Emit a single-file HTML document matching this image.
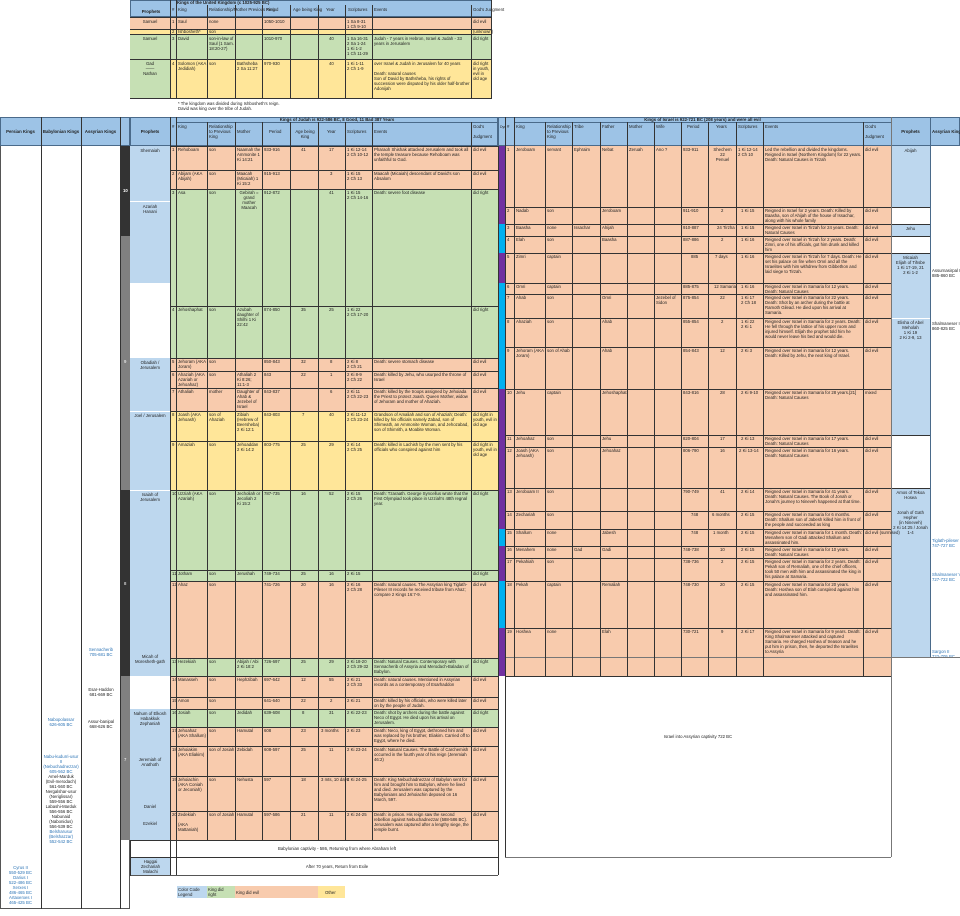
<!DOCTYPE html>
<html><head><meta charset="utf-8"><style>
body{margin:0;width:960px;height:916px;background:#fff;position:relative;overflow:hidden;font-family:"Liberation Sans",sans-serif}
div{position:absolute;box-sizing:border-box}
.t{font-size:4.3px;line-height:5px;color:#222;overflow:hidden;padding:1px}
.h{background:#9dc3e6;border:1px solid #4a6a8a}
.r{background:#f8cbad}.g{background:#c6e0b4}.y{background:#ffe699}.b{background:#bdd7ee}
.hl{height:1px;background:#333}
.vl{width:1px;background:#333}
.bl{color:#2e75b6}
</style></head><body>

<!-- TOP TABLE -->
<div class="h" style="left:130px;top:0;width:362px;height:17px"></div>
<div class="t" style="left:176px;top:-1px;font-weight:bold">Kings of the United Kingdom (c 1025-925 BC)</div>
<div class="t" style="left:132px;top:8px;width:38px;text-align:center;font-weight:bold">Prophets</div>
<div class="t" style="left:171px;top:6px">#</div>
<div class="t" style="left:177px;top:6px">King</div>
<div class="t" style="left:208px;top:6px">Relationship/Mother Previous King</div>
<div class="t" style="left:265px;top:6px">Period</div>
<div class="t" style="left:292px;top:6px">Age being King</div>
<div class="t" style="left:325px;top:6px">Year</div>
<div class="t" style="left:347px;top:6px">Scriptures</div>
<div class="t" style="left:373px;top:6px">Events</div>
<div class="t" style="left:472px;top:6px">God's Judgment</div>
<div class="r" style="left:130px;top:17px;width:362px;height:12px"></div>
<div class="y" style="left:130px;top:29px;width:362px;height:5px"></div>
<div class="g" style="left:130px;top:34px;width:362px;height:25px"></div>
<div class="y" style="left:170px;top:59px;width:322px;height:40px"></div>
<div class="g" style="left:130px;top:59px;width:40px;height:40px"></div>
<div class="hl" style="left:130px;top:17px;width:362px"></div>
<div class="hl" style="left:130px;top:29px;width:362px"></div>
<div class="hl" style="left:130px;top:34px;width:362px"></div>
<div class="hl" style="left:130px;top:59px;width:362px"></div>
<div class="hl" style="left:130px;top:98px;width:362px"></div>
<div class="vl" style="left:170px;top:0;height:99px"></div><div class="vl" style="left:176px;top:0;height:99px"></div>
<div class="vl" style="left:207px;top:5px;height:94px"></div><div class="vl" style="left:235px;top:5px;height:94px"></div>
<div class="vl" style="left:262px;top:5px;height:94px"></div><div class="vl" style="left:290px;top:5px;height:94px"></div>
<div class="vl" style="left:318px;top:5px;height:94px"></div><div class="vl" style="left:345px;top:5px;height:94px"></div>
<div class="vl" style="left:372px;top:5px;height:94px"></div><div class="vl" style="left:471px;top:5px;height:94px"></div>
<div class="vl" style="left:491px;top:0;height:99px"></div>
<div class="t" style="left:130px;top:18px;width:40px;text-align:center">Samuel</div>
<div class="t" style="left:130px;top:35px;width:40px;text-align:center">Samuel</div>
<div class="t" style="left:130px;top:60px;width:40px;text-align:center">Gad<br>——<br>Nathan</div>
<div class="t" style="left:171px;top:18px">1</div><div class="t" style="left:177px;top:18px">Saul</div><div class="t" style="left:208px;top:18px">none</div><div class="t" style="left:263px;top:18px">1050-1010</div><div class="t" style="left:346px;top:18px">1 Sa 8-31<br>1 Ch 9-10</div><div class="t" style="left:472px;top:18px">did evil</div>
<div class="t" style="left:171px;top:28px">2</div><div class="t" style="left:177px;top:28px">Ishbosheth*</div><div class="t" style="left:208px;top:28px">son</div><div class="t" style="left:472px;top:28px">(unknown)</div>
<div class="t" style="left:171px;top:35px">3</div><div class="t" style="left:177px;top:35px">David</div><div class="t" style="left:208px;top:35px;width:27px">son-in-law of Saul (1 Sam. 18:20-27)</div><div class="t" style="left:263px;top:35px">1010-970</div><div class="t" style="left:328px;top:35px">40</div><div class="t" style="left:346px;top:35px">1 Sa 16-31<br>2 Sa 1-24<br>1 Ki 1-2<br>1 Ch 11-29</div><div class="t" style="left:373px;top:35px;width:98px">Judah - 7 years in Hebron, Israel &amp; Judah - 33 years in Jerusalem</div><div class="t" style="left:472px;top:35px">did right</div>
<div class="t" style="left:171px;top:60px">4</div><div class="t" style="left:177px;top:60px;width:30px">Solomon (AKA Jedidiah)</div><div class="t" style="left:208px;top:60px">son</div><div class="t" style="left:236px;top:60px;width:26px">Bathsheba 2 Sa 11:27</div><div class="t" style="left:263px;top:60px">970-930</div><div class="t" style="left:328px;top:60px">40</div><div class="t" style="left:346px;top:60px">1 Ki 1-11<br>2 Ch 1-9</div><div class="t" style="left:373px;top:60px;width:98px">over Israel &amp; Judah in Jerusalem for 40 years<br><br>Death: natural causes<br>Son of David by Bathsheba, his rights of succession were disputed by his older half-brother Adonijah</div><div class="t" style="left:472px;top:60px;width:19px">did right in youth, evil in old age</div>
<div class="t" style="left:177px;top:100px">* The kingdom was divided during Ishbosheth's reign.<br>David was king over the tribe of Judah.</div>

<!-- LEFT COLUMNS -->
<div style="left:0;top:117px;width:130px;height:792px;border:1px solid #555"></div>
<div class="h" style="left:0;top:117px;width:130px;height:29px"></div>
<div class="vl" style="left:41px;top:117px;height:792px"></div>
<div class="vl" style="left:81px;top:117px;height:792px"></div>
<div class="vl" style="left:120px;top:117px;height:792px"></div>
<div class="t" style="left:0;top:128px;width:41px;text-align:center;font-weight:bold">Persian Kings</div>
<div class="t" style="left:41px;top:128px;width:40px;text-align:center;font-weight:bold">Babylonian Kings</div>
<div class="t" style="left:81px;top:128px;width:39px;text-align:center;font-weight:bold">Assyrian Kings</div>
<div style="left:121px;top:146px;width:9px;height:90px;background:#333"></div>
<div style="left:121px;top:236px;width:9px;height:254px;background:#808080"></div>
<div style="left:121px;top:490px;width:9px;height:186px;background:#333"></div>
<div style="left:121px;top:676px;width:9px;height:164px;background:#808080"></div>
<div class="t" style="left:122px;top:187px;color:#fff;font-weight:bold">10</div>
<div class="t" style="left:123px;top:358px;color:#fff">9</div>
<div class="t" style="left:123px;top:580px;color:#fff">8</div>
<div class="t" style="left:123px;top:756px;color:#fff">7</div>
<div class="t bl" style="left:82px;top:646px;width:38px;text-align:center">Sennacherib<br>705-681 BC</div>
<div class="t" style="left:82px;top:686px;width:38px;text-align:center">Esar-Haddon<br>681-669 BC</div>
<div class="t" style="left:82px;top:718px;width:38px;text-align:center">Assur-banipal<br>668-626 BC</div>
<div class="t bl" style="left:41px;top:716px;width:40px;text-align:center">Nabopolassar<br>626-605 BC</div>
<div class="t" style="left:41px;top:753px;width:40px;text-align:center"><span class="bl">Nabu-kudurri-usur II<br>(Nebuchadnezzar)<br>605-562 BC</span><br>Amel-Marduk<br>(Evil-merodach)<br>561-560 BC<br>Nergalshar-usur<br>(Neriglissar)<br>559-556 BC<br>Labashi-Marduk<br>556-556 BC<br>Nabunaid<br>(Nabonidus)<br>556-539 BC<br><span class="bl">Belsharusur<br>(Belshazzar)<br>552-542 BC</span></div>
<div class="t bl" style="left:0;top:864px;width:41px;text-align:center">Cyrus II<br>550-529 BC<br>Darius I<br>522-486 BC<br>Xerxes I<br>486-465 BC<br>Artaxerxes I<br>465-425 BC</div>

<!-- JUDAH HEADER -->
<div class="h" style="left:130px;top:117px;width:368px;height:29px"></div>
<div class="t" style="left:176px;top:116px;width:322px;text-align:center;font-weight:bold;text-decoration:underline">Kings of Judah is 922-586 BC, 8 Good, 11 Bad 387 Years</div>
<div class="hl" style="left:176px;top:122px;width:322px;background:#4a6a8a"></div>
<div class="t" style="left:130px;top:128px;width:40px;text-align:center;font-weight:bold">Prophets</div>
<div class="t" style="left:171px;top:123px">#</div>
<div class="t" style="left:177px;top:123px">King</div>
<div class="t" style="left:208px;top:123px;width:27px">Relationship to Previous King</div>
<div class="t" style="left:236px;top:128px">Mother</div>
<div class="t" style="left:268px;top:128px">Period</div>
<div class="t" style="left:292px;top:128px;width:26px;text-align:center">Age being King</div>
<div class="t" style="left:326px;top:128px">Year</div>
<div class="t" style="left:346px;top:128px">Scriptures</div>
<div class="t" style="left:373px;top:128px">Events</div>
<div class="t" style="left:472px;top:123px;width:26px">God's<br><br>Judgment</div>

<!-- JUDAH PROPHETS -->
<div class="b" style="left:130px;top:146px;width:40px;height:55px"></div>
<div class="b" style="left:130px;top:202px;width:40px;height:81px"></div>
<div class="b" style="left:130px;top:358px;width:40px;height:318px"></div>
<div class="b" style="left:130px;top:709px;width:40px;height:131px"></div>
<div class="hl" style="left:130px;top:411px;width:40px;background:#fff"></div>
<div class="hl" style="left:130px;top:490px;width:40px;background:#fff"></div>
<div class="t" style="left:130px;top:147px;width:40px;text-align:center">Shemaiah</div>
<div class="t" style="left:130px;top:203px;width:40px;text-align:center">Azariah<br>Hanani</div>
<div class="t" style="left:130px;top:359px;width:40px;text-align:center">Obadiah /<br>Jerusalem</div>
<div class="t" style="left:130px;top:412px;width:40px;text-align:center">Joel / Jerusalem</div>
<div class="t" style="left:130px;top:491px;width:40px;text-align:center">Isaiah of<br>Jerusalem</div>
<div class="t" style="left:130px;top:653px;width:40px;text-align:center">Micah of<br>Moresheth-gath</div>
<div class="t" style="left:130px;top:710px;width:40px;text-align:center">Nahum of Elkosh<br>Habakkuk<br>Zephaniah</div>
<div class="t" style="left:130px;top:756px;width:40px;text-align:center">Jeremiah of<br>Anathoth</div>
<div class="t" style="left:130px;top:803px;width:40px;text-align:center">Daniel</div>
<div class="t" style="left:130px;top:820px;width:40px;text-align:center">Ezekiel</div>

<!-- JUDAH ROWS -->
<div class="r" style="left:170px;top:146px;width:328px;height:43px"></div>
<div class="g" style="left:170px;top:189px;width:328px;height:169px"></div>
<div class="r" style="left:170px;top:358px;width:328px;height:53px"></div>
<div class="y" style="left:170px;top:411px;width:328px;height:79px"></div>
<div class="g" style="left:170px;top:490px;width:328px;height:91px"></div>
<div class="r" style="left:170px;top:581px;width:328px;height:77px"></div>
<div class="g" style="left:170px;top:658px;width:328px;height:18px"></div>
<div class="r" style="left:170px;top:676px;width:328px;height:33px"></div>
<div class="g" style="left:170px;top:709px;width:328px;height:18px"></div>
<div class="r" style="left:170px;top:727px;width:328px;height:113px"></div>

<div class="hl" style="left:170px;top:146px;width:328px"></div>
<div class="hl" style="left:170px;top:170px;width:328px"></div>
<div class="hl" style="left:170px;top:189px;width:328px"></div>
<div class="hl" style="left:170px;top:306px;width:328px"></div>
<div class="hl" style="left:170px;top:358px;width:328px"></div>
<div class="hl" style="left:170px;top:371px;width:328px"></div>
<div class="hl" style="left:170px;top:388px;width:328px"></div>
<div class="hl" style="left:170px;top:411px;width:328px"></div>
<div class="hl" style="left:170px;top:441px;width:328px"></div>
<div class="hl" style="left:170px;top:490px;width:328px"></div>
<div class="hl" style="left:170px;top:570px;width:328px"></div>
<div class="hl" style="left:170px;top:581px;width:328px"></div>
<div class="hl" style="left:170px;top:658px;width:328px"></div>
<div class="hl" style="left:170px;top:676px;width:328px"></div>
<div class="hl" style="left:170px;top:697px;width:328px"></div>
<div class="hl" style="left:170px;top:709px;width:328px"></div>
<div class="hl" style="left:170px;top:727px;width:328px"></div>
<div class="hl" style="left:170px;top:746px;width:328px"></div>
<div class="hl" style="left:170px;top:776px;width:328px"></div>
<div class="hl" style="left:170px;top:811px;width:328px"></div>
<div class="hl" style="left:130px;top:840px;width:368px"></div>
<div class="hl" style="left:130px;top:857px;width:368px"></div>
<div class="hl" style="left:130px;top:875px;width:368px;background:#555"></div>

<div class="vl" style="left:170px;top:117px;height:758px"></div>
<div class="vl" style="left:176px;top:117px;height:758px"></div>
<div class="vl" style="left:207px;top:122px;height:718px"></div>
<div class="vl" style="left:235px;top:122px;height:718px"></div>
<div class="vl" style="left:262px;top:122px;height:718px"></div>
<div class="vl" style="left:290px;top:122px;height:718px"></div>
<div class="vl" style="left:318px;top:122px;height:718px"></div>
<div class="vl" style="left:345px;top:122px;height:718px"></div>
<div class="vl" style="left:372px;top:122px;height:718px"></div>
<div class="vl" style="left:471px;top:122px;height:718px"></div>
<div class="vl" style="left:498px;top:117px;height:758px"></div>
<div class="vl" style="left:130px;top:840px;height:36px"></div>

<!-- Judah row text -->
<div class="t" style="left:171px;top:146px">1</div><div class="t" style="left:177px;top:146px">Rehoboam</div><div class="t" style="left:208px;top:146px">son</div><div class="t" style="left:236px;top:146px;width:26px">Naamah the Ammonite 1 Ki 14:21</div><div class="t" style="left:263px;top:146px">933-916</div><div class="t" style="left:300px;top:146px">41</div><div class="t" style="left:328px;top:146px">17</div><div class="t" style="left:346px;top:146px">1 Ki 12-14<br>2 Ch 10-12</div><div class="t" style="left:373px;top:146px;width:98px">Pharaoh Shishak attacked Jerusalem and took all the temple treasure because Rehoboam was unfaithful to God.</div><div class="t" style="left:472px;top:146px">did evil</div>
<div class="t" style="left:171px;top:170px">2</div><div class="t" style="left:177px;top:170px;width:30px">Abijam (AKA Abijah)</div><div class="t" style="left:208px;top:170px">son</div><div class="t" style="left:236px;top:170px;width:26px">Maacah (Micaiah) 1 Ki 15:2</div><div class="t" style="left:263px;top:170px">915-913</div><div class="t" style="left:329px;top:170px">3</div><div class="t" style="left:346px;top:170px">1 Ki 15<br>2 Ch 13</div><div class="t" style="left:373px;top:170px;width:98px">Maacah (Micaiah) descendant of David's son Absalom</div><div class="t" style="left:472px;top:170px">did evil</div>
<div class="t" style="left:171px;top:189px">3</div><div class="t" style="left:177px;top:189px">Asa</div><div class="t" style="left:208px;top:189px">son</div><div class="t" style="left:236px;top:189px;width:26px;text-align:center">Gebirah = grand mother Maacah</div><div class="t" style="left:263px;top:189px">912-872</div><div class="t" style="left:328px;top:189px">41</div><div class="t" style="left:346px;top:189px">1 Ki 15<br>2 Ch 14-16</div><div class="t" style="left:373px;top:189px">Death: severe foot disease</div><div class="t" style="left:472px;top:189px">did right</div>
<div class="t" style="left:171px;top:306px">4</div><div class="t" style="left:177px;top:306px">Jehoshaphat</div><div class="t" style="left:208px;top:306px">son</div><div class="t" style="left:236px;top:306px;width:26px">Azubah daughter of Shilhi 1 Ki 22:42</div><div class="t" style="left:263px;top:306px">874-850</div><div class="t" style="left:300px;top:306px">35</div><div class="t" style="left:328px;top:306px">25</div><div class="t" style="left:346px;top:306px">1 Ki 22<br>2 Ch 17-20</div><div class="t" style="left:472px;top:306px">did right</div>
<div class="t" style="left:171px;top:358px">5</div><div class="t" style="left:177px;top:358px;width:30px">Jehoram (AKA Joram)</div><div class="t" style="left:208px;top:358px">son</div><div class="t" style="left:263px;top:358px">850-843</div><div class="t" style="left:300px;top:358px">32</div><div class="t" style="left:329px;top:358px">8</div><div class="t" style="left:346px;top:358px">2 Ki 8<br>2 Ch 21</div><div class="t" style="left:373px;top:358px">Death: severe stomach disease</div><div class="t" style="left:472px;top:358px">did evil</div>
<div class="t" style="left:171px;top:371px">6</div><div class="t" style="left:177px;top:371px;width:30px">Ahaziah (AKA Azariah or Jehoahaz)</div><div class="t" style="left:208px;top:371px">son</div><div class="t" style="left:236px;top:371px;width:26px">Athaliah 2 Ki 8:26; 11:1-3</div><div class="t" style="left:263px;top:371px">843</div><div class="t" style="left:300px;top:371px">22</div><div class="t" style="left:329px;top:371px">1</div><div class="t" style="left:346px;top:371px">2 Ki 8-9<br>2 Ch 22</div><div class="t" style="left:373px;top:371px;width:98px">Death: killed by Jehu, who usurped the throne of Israel</div><div class="t" style="left:472px;top:371px">did evil</div>
<div class="t" style="left:171px;top:388px">7</div><div class="t" style="left:177px;top:388px">Athaliah</div><div class="t" style="left:208px;top:388px">mother</div><div class="t" style="left:236px;top:388px;width:26px">Daughter of Ahab &amp; Jezebel of Israel</div><div class="t" style="left:263px;top:388px">843-837</div><div class="t" style="left:329px;top:388px">6</div><div class="t" style="left:346px;top:388px">2 Ki 11<br>2 Ch 22-23</div><div class="t" style="left:373px;top:388px;width:98px">Death: killed by the troops assigned by Jehoiada the Priest to protect Joash. Queen Mother, widow of Jehoram and mother of Ahaziah.</div><div class="t" style="left:472px;top:388px">did evil</div>
<div class="t" style="left:171px;top:411px">8</div><div class="t" style="left:177px;top:411px;width:30px">Joash (AKA Jehoash)</div><div class="t" style="left:208px;top:411px;width:27px">son of Ahaziah</div><div class="t" style="left:236px;top:411px;width:26px">Zibiah (Hebrew of Beersheba) 2 Ki 12:1</div><div class="t" style="left:263px;top:411px">843-803</div><div class="t" style="left:301px;top:411px">7</div><div class="t" style="left:328px;top:411px">40</div><div class="t" style="left:346px;top:411px">2 Ki 11-12<br>2 Ch 23-24</div><div class="t" style="left:373px;top:411px;width:98px">Grandson of Amaliah and son of Ahaziah; Death: killed by his officials namely Zabad, son of Shimeath, an Ammonite Woman, and Jehozabad, son of Shimrith, a Moabite Woman.</div><div class="t" style="left:472px;top:411px;width:26px">did right in youth, evil in old age</div>
<div class="t" style="left:171px;top:441px">9</div><div class="t" style="left:177px;top:441px">Amaziah</div><div class="t" style="left:208px;top:441px">son</div><div class="t" style="left:236px;top:441px;width:26px">Jehoaddan 2 Ki 14:2</div><div class="t" style="left:263px;top:441px">803-775</div><div class="t" style="left:300px;top:441px">25</div><div class="t" style="left:328px;top:441px">29</div><div class="t" style="left:346px;top:441px">2 Ki 14<br>2 Ch 25</div><div class="t" style="left:373px;top:441px;width:98px">Death: killed in Lachish by the men sent by his officials who conspired against him</div><div class="t" style="left:472px;top:441px;width:26px">did right in youth, evil in old age</div>
<div class="t" style="left:171px;top:490px">10</div><div class="t" style="left:177px;top:490px;width:30px">Uzziah (AKA Azariah)</div><div class="t" style="left:208px;top:490px">son</div><div class="t" style="left:236px;top:490px;width:26px">Jecholiah or Jecoliah 2 Ki 15:2</div><div class="t" style="left:263px;top:490px">787-735</div><div class="t" style="left:300px;top:490px">16</div><div class="t" style="left:328px;top:490px">52</div><div class="t" style="left:346px;top:490px">2 Ki 15<br>2 Ch 26</div><div class="t" style="left:373px;top:490px;width:98px">Death: Tzaraath. George Syncellus wrote that the First Olympiad took place in Uzziah's 48th regnal year.</div><div class="t" style="left:472px;top:490px">did right</div>
<div class="t" style="left:171px;top:570px">11</div><div class="t" style="left:177px;top:570px">Jotham</div><div class="t" style="left:208px;top:570px">son</div><div class="t" style="left:236px;top:570px">Jerushah</div><div class="t" style="left:263px;top:570px">749-734</div><div class="t" style="left:300px;top:570px">25</div><div class="t" style="left:328px;top:570px">16</div><div class="t" style="left:346px;top:570px">2 Ki 15</div><div class="t" style="left:472px;top:570px">did right</div>
<div class="t" style="left:171px;top:581px">12</div><div class="t" style="left:177px;top:581px">Ahaz</div><div class="t" style="left:208px;top:581px">son</div><div class="t" style="left:263px;top:581px">741-726</div><div class="t" style="left:300px;top:581px">20</div><div class="t" style="left:328px;top:581px">16</div><div class="t" style="left:346px;top:581px">2 Ki 16<br>2 Ch 28</div><div class="t" style="left:373px;top:581px;width:98px">Death: natural causes. The Assyrian king Tiglath-Pileser III records he received tribute from Ahaz; compare 2 Kings 16:7-9.</div><div class="t" style="left:472px;top:581px">did evil</div>
<div class="t" style="left:171px;top:658px">13</div><div class="t" style="left:177px;top:658px">Hezekiah</div><div class="t" style="left:208px;top:658px">son</div><div class="t" style="left:236px;top:658px;width:26px">Abijah / Abi 2 Ki 18:2</div><div class="t" style="left:263px;top:658px">726-697</div><div class="t" style="left:300px;top:658px">25</div><div class="t" style="left:328px;top:658px">29</div><div class="t" style="left:346px;top:658px">2 Ki 18-20<br>2 Ch 29-32</div><div class="t" style="left:373px;top:658px;width:98px">Death: Natural Causes. Contemporary with Sennacherib of Assyria and Merodach-Baladan of Babylon.</div><div class="t" style="left:472px;top:658px">did right</div>
<div class="t" style="left:171px;top:676px">14</div><div class="t" style="left:177px;top:676px">Manasseh</div><div class="t" style="left:208px;top:676px">son</div><div class="t" style="left:236px;top:676px">Hephzibah</div><div class="t" style="left:263px;top:676px">697-642</div><div class="t" style="left:300px;top:676px">12</div><div class="t" style="left:328px;top:676px">55</div><div class="t" style="left:346px;top:676px">2 Ki 21<br>2 Ch 33</div><div class="t" style="left:373px;top:676px;width:98px">Death: natural causes. Mentioned in Assyrian records as a contemporary of Esarhaddon</div><div class="t" style="left:472px;top:676px">did evil</div>
<div class="t" style="left:171px;top:697px">15</div><div class="t" style="left:177px;top:697px">Amon</div><div class="t" style="left:208px;top:697px">son</div><div class="t" style="left:263px;top:697px">641-640</div><div class="t" style="left:300px;top:697px">22</div><div class="t" style="left:329px;top:697px">2</div><div class="t" style="left:346px;top:697px">2 Ki 21</div><div class="t" style="left:373px;top:697px;width:98px">Death: killed by his officials, who were killed later on by the people of Judah.</div><div class="t" style="left:472px;top:697px">did evil</div>
<div class="t" style="left:171px;top:709px">16</div><div class="t" style="left:177px;top:709px">Josiah</div><div class="t" style="left:208px;top:709px">son</div><div class="t" style="left:236px;top:709px">Jedidah</div><div class="t" style="left:263px;top:709px">639-608</div><div class="t" style="left:301px;top:709px">8</div><div class="t" style="left:328px;top:709px">31</div><div class="t" style="left:346px;top:709px">2 Ki 22-23</div><div class="t" style="left:373px;top:709px;width:98px">Death: shot by archers during the battle against Neco of Egypt. He died upon his arrival on Jerusalem.</div><div class="t" style="left:472px;top:709px">did right</div>
<div class="t" style="left:171px;top:727px">17</div><div class="t" style="left:177px;top:727px;width:30px">Jehoahaz (AKA Shallum)</div><div class="t" style="left:208px;top:727px">son</div><div class="t" style="left:236px;top:727px">Hamutal</div><div class="t" style="left:263px;top:727px">608</div><div class="t" style="left:300px;top:727px">23</div><div class="t" style="left:320px;top:727px">3 months</div><div class="t" style="left:346px;top:727px">2 Ki 23</div><div class="t" style="left:373px;top:727px;width:98px">Death: Neco, king of Egypt, dethroned him and was replaced by his brother, Eliakim. Carried off to Egypt, where he died.</div><div class="t" style="left:472px;top:727px">did evil</div>
<div class="t" style="left:171px;top:746px">18</div><div class="t" style="left:177px;top:746px;width:30px">Jehoiakim (AKA Eliakim)</div><div class="t" style="left:208px;top:746px">son of Josiah</div><div class="t" style="left:236px;top:746px">Zebidah</div><div class="t" style="left:263px;top:746px">608-597</div><div class="t" style="left:300px;top:746px">25</div><div class="t" style="left:328px;top:746px">11</div><div class="t" style="left:346px;top:746px">2 Ki 23-24</div><div class="t" style="left:373px;top:746px;width:98px">Death: Natural Causes. The Battle of Carchemish occurred in the fourth year of his reign (Jeremiah 46:2)</div><div class="t" style="left:472px;top:746px">did evil</div>
<div class="t" style="left:171px;top:776px">19</div><div class="t" style="left:177px;top:776px;width:30px">Jehoiachin (AKA Coniah or Jeconiah)</div><div class="t" style="left:208px;top:776px">son</div><div class="t" style="left:236px;top:776px">Nehusta</div><div class="t" style="left:263px;top:776px">597</div><div class="t" style="left:300px;top:776px">18</div><div class="t" style="left:320px;top:776px">3 mts, 10 days</div><div class="t" style="left:346px;top:776px">2 Ki 24-25</div><div class="t" style="left:373px;top:776px;width:98px">Death: King Nebuchadnezzar of Babylon sent for him and brought him to Babylon, where he lived and died. Jerusalem was captured by the Babylonians and Jehoiachin deposed on 16 March, 597.</div><div class="t" style="left:472px;top:776px">did evil</div>
<div class="t" style="left:171px;top:811px">20</div><div class="t" style="left:177px;top:811px;width:30px">Zedekiah<br><br>(AKA Mattaniah)</div><div class="t" style="left:208px;top:811px">son of Josiah</div><div class="t" style="left:236px;top:811px">Hamutal</div><div class="t" style="left:263px;top:811px">597-586</div><div class="t" style="left:300px;top:811px">21</div><div class="t" style="left:328px;top:811px">11</div><div class="t" style="left:346px;top:811px">2 Ki 24-25</div><div class="t" style="left:373px;top:811px;width:98px">Death: in prison. His reign saw the second rebellion against Nebuchadnezzar (588-586 BC). Jerusalem was captured after a lengthy siege, the temple burnt.</div><div class="t" style="left:472px;top:811px">did evil</div>

<div class="t" style="left:176px;top:845px;width:322px;text-align:center">Babylonian captivity - 586, Returning from where Abraham left</div>
<div class="b" style="left:131px;top:858px;width:39px;height:17px"></div>
<div class="t" style="left:131px;top:858px;width:39px;text-align:center">Haggai<br>Zechariah<br>Malachi</div>
<div class="t" style="left:176px;top:863px;width:322px;text-align:center">After 70 years, Return from Exile</div>

<!-- Legend -->
<div class="b" style="left:177px;top:886px;width:30px;height:12px"></div>
<div class="g" style="left:207px;top:886px;width:28px;height:12px"></div>
<div class="r" style="left:235px;top:886px;width:83px;height:12px"></div>
<div class="y" style="left:318px;top:886px;width:27px;height:12px"></div>
<div class="t" style="left:177px;top:886px">Color Code<br>Legend</div>
<div class="t" style="left:207px;top:886px">King did<br>right</div>
<div class="t" style="left:235px;top:889px">King did evil</div>
<div class="t" style="left:324px;top:889px">Other</div>

<!-- ISRAEL HEADER -->
<div class="h" style="left:498px;top:117px;width:462px;height:29px"></div>
<div class="t" style="left:514px;top:116px;width:377px;text-align:center;font-weight:bold;text-decoration:underline">Kings of Israel is 922-721 BC (208 years) and were all evil</div>
<div class="hl" style="left:514px;top:122px;width:377px;background:#4a6a8a"></div>
<div class="t" style="left:499px;top:124px;width:6px;font-size:3.5px">Dynasty</div>
<div class="t" style="left:506px;top:123px">#</div>
<div class="t" style="left:515px;top:123px">King</div>
<div class="t" style="left:546px;top:123px;width:26px">Relationship to Previous King</div>
<div class="t" style="left:573px;top:123px">Tribe</div>
<div class="t" style="left:601px;top:123px">Father</div>
<div class="t" style="left:628px;top:123px">Mother</div>
<div class="t" style="left:655px;top:123px">Wife</div>
<div class="t" style="left:686px;top:123px">Period</div>
<div class="t" style="left:715px;top:123px">Years</div>
<div class="t" style="left:737px;top:123px">Scriptures</div>
<div class="t" style="left:764px;top:123px">Events</div>
<div class="t" style="left:864px;top:123px;width:27px">God's<br><br>Judgment</div>
<div class="t" style="left:891px;top:128px;width:39px;text-align:center;font-weight:bold">Prophets</div>
<div class="t" style="left:931px;top:128px;white-space:nowrap;font-weight:bold">Assyrian Kings</div>

<div class="r" style="left:505px;top:146px;width:386px;height:530px"></div>
<!-- dynasty -->
<div style="left:499px;top:146px;width:6px;height:78px;background:#7030a0"></div>
<div style="left:499px;top:224px;width:6px;height:29px;background:#00b0f0"></div>
<div style="left:499px;top:253px;width:6px;height:30px;background:#7030a0"></div>
<div style="left:499px;top:283px;width:6px;height:106px;background:#00b0f0"></div>
<div style="left:499px;top:389px;width:6px;height:140px;background:#7030a0"></div>
<div style="left:499px;top:529px;width:6px;height:17px;background:#00b0f0"></div>
<div style="left:499px;top:546px;width:6px;height:35px;background:#7030a0"></div>
<div style="left:499px;top:581px;width:6px;height:47px;background:#00b0f0"></div>
<div style="left:499px;top:628px;width:6px;height:48px;background:#7030a0"></div>
<!-- israel prophets -->
<div class="b" style="left:892px;top:146px;width:38px;height:61px"></div>
<div class="b" style="left:892px;top:224px;width:38px;height:12px"></div>
<div class="b" style="left:892px;top:253px;width:38px;height:182px"></div>
<div class="b" style="left:892px;top:488px;width:38px;height:169px"></div>
<div class="hl" style="left:892px;top:318px;width:38px;background:#fff"></div>
<div class="t" style="left:891px;top:147px;width:39px;text-align:center">Abijah</div>
<div class="t" style="left:891px;top:225px;width:39px;text-align:center">Jehu</div>
<div class="t" style="left:891px;top:254px;width:39px;text-align:center">Micaiah<br>Elijah of Tihsbe<br>1 Ki 17-19, 21<br>2 Ki 1-2</div>
<div class="t" style="left:891px;top:319px;width:39px;text-align:center">Elisha of Abel Meholah<br>1 Ki 19<br>2 Ki 2-9, 13</div>
<div class="t" style="left:891px;top:489px;width:39px;text-align:center">Amos of Tekoa<br>Hosea<br><br><br>Jonah of Gath Hepher<br>(in Nineveh)<br>2 Ki 14:25 / Jonah 1-4</div>
<div class="t" style="left:931px;top:267px;white-space:nowrap">Assurnasirpal II<br>885-860 BC</div>
<div class="t" style="left:931px;top:320px;white-space:nowrap">Shalmaneser III<br>860-825 BC</div>
<div class="t bl" style="left:931px;top:537px;white-space:nowrap">Tiglath-pileser III<br>747-727 BC</div>
<div class="t bl" style="left:931px;top:571px;white-space:nowrap">Shalmaneser V<br>727-722 BC</div>
<div class="t bl" style="left:931px;top:648px;white-space:nowrap">Sargon II<br>722-705 BC</div>

<!-- israel lines -->
<div class="hl" style="left:505px;top:207px;width:425px"></div>
<div class="hl" style="left:505px;top:224px;width:425px"></div>
<div class="hl" style="left:505px;top:236px;width:425px"></div>
<div class="hl" style="left:505px;top:253px;width:425px"></div>
<div class="hl" style="left:505px;top:283px;width:386px"></div>
<div class="hl" style="left:505px;top:294px;width:386px"></div>
<div class="hl" style="left:505px;top:318px;width:386px"></div>
<div class="hl" style="left:505px;top:347px;width:386px"></div>
<div class="hl" style="left:505px;top:389px;width:386px"></div>
<div class="hl" style="left:505px;top:435px;width:425px"></div>
<div class="hl" style="left:505px;top:447px;width:386px"></div>
<div class="hl" style="left:505px;top:488px;width:425px"></div>
<div class="hl" style="left:505px;top:511px;width:386px"></div>
<div class="hl" style="left:505px;top:529px;width:386px"></div>
<div class="hl" style="left:505px;top:546px;width:386px"></div>
<div class="hl" style="left:505px;top:558px;width:386px"></div>
<div class="hl" style="left:505px;top:581px;width:386px"></div>
<div class="hl" style="left:505px;top:628px;width:386px"></div>
<div class="hl" style="left:505px;top:657px;width:455px;background:#777"></div>
<div class="hl" style="left:505px;top:676px;width:386px"></div>
<div class="hl" style="left:505px;top:857px;width:386px;background:#777"></div>
<div class="vl" style="left:505px;top:117px;height:740px"></div>
<div class="vl" style="left:514px;top:117px;height:559px"></div>
<div class="vl" style="left:545px;top:122px;height:554px"></div>
<div class="vl" style="left:572px;top:122px;height:554px"></div>
<div class="vl" style="left:600px;top:122px;height:554px"></div>
<div class="vl" style="left:627px;top:122px;height:554px"></div>
<div class="vl" style="left:654px;top:122px;height:554px"></div>
<div class="vl" style="left:681px;top:122px;height:554px"></div>
<div class="vl" style="left:708px;top:122px;height:554px"></div>
<div class="vl" style="left:736px;top:122px;height:554px"></div>
<div class="vl" style="left:763px;top:122px;height:554px"></div>
<div class="vl" style="left:863px;top:122px;height:554px"></div>
<div class="vl" style="left:891px;top:117px;height:740px;background:#777"></div>
<div class="vl" style="left:930px;top:117px;height:540px;background:#4a6a8a"></div>
<div class="t" style="left:505px;top:733px;width:386px;text-align:center">Israel into Assyrian captivity 722 BC</div>

<!-- Israel row text -->
<div class="t" style="left:506px;top:146px">1</div><div class="t" style="left:515px;top:146px">Jeroboam</div><div class="t" style="left:546px;top:146px">servant</div><div class="t" style="left:573px;top:146px">Ephraim</div><div class="t" style="left:601px;top:146px">Nebat</div><div class="t" style="left:628px;top:146px">Zeruah</div><div class="t" style="left:655px;top:146px">Ano ?</div><div class="t" style="left:682px;top:146px">933-911</div><div class="t" style="left:709px;top:146px;width:27px;text-align:center">Shechem<br>22<br>Penuel</div><div class="t" style="left:737px;top:146px">1 Ki 12-14<br>2 Ch 10</div><div class="t" style="left:764px;top:146px;width:99px">Led the rebellion and divided the kingdoms. Reigned in Israel (Northern Kingdom) for 22 years. Death: Natural Causes in Tirzah</div><div class="t" style="left:864px;top:146px">did evil</div>
<div class="t" style="left:506px;top:207px">2</div><div class="t" style="left:515px;top:207px">Nadab</div><div class="t" style="left:546px;top:207px">son</div><div class="t" style="left:601px;top:207px">Jeroboam</div><div class="t" style="left:682px;top:207px">911-910</div><div class="t" style="left:720px;top:207px">2</div><div class="t" style="left:740px;top:207px">1 Ki 15</div><div class="t" style="left:764px;top:207px;width:99px">Reigned in Israel for 2 years. Death: Killed by Baasha, son of Ahijah of the house of Issachar, along with his whole family</div><div class="t" style="left:864px;top:207px">did evil</div>
<div class="t" style="left:506px;top:224px">3</div><div class="t" style="left:515px;top:224px">Baasha</div><div class="t" style="left:546px;top:224px">none</div><div class="t" style="left:573px;top:224px">Issachar</div><div class="t" style="left:601px;top:224px">Ahijah</div><div class="t" style="left:682px;top:224px">910-887</div><div class="t" style="left:716px;top:224px">24 Tirzha</div><div class="t" style="left:740px;top:224px">1 Ki 15</div><div class="t" style="left:764px;top:224px;width:99px">Reigned over Israel in Tirzah for 24 years. Death: Natural Causes</div><div class="t" style="left:864px;top:224px">did evil</div>
<div class="t" style="left:506px;top:236px">4</div><div class="t" style="left:515px;top:236px">Elah</div><div class="t" style="left:546px;top:236px">son</div><div class="t" style="left:601px;top:236px">Baasha</div><div class="t" style="left:682px;top:236px">887-886</div><div class="t" style="left:720px;top:236px">2</div><div class="t" style="left:740px;top:236px">1 Ki 16</div><div class="t" style="left:764px;top:236px;width:99px">Reigned over Israel in Tirzah for 2 years. Death: Zimri, one of his officials, got him drunk and killed him</div><div class="t" style="left:864px;top:236px">did evil</div>
<div class="t" style="left:506px;top:253px">5</div><div class="t" style="left:515px;top:253px">Zimri</div><div class="t" style="left:546px;top:253px">captain</div><div class="t" style="left:690px;top:253px">885</div><div class="t" style="left:714px;top:253px">7 days</div><div class="t" style="left:740px;top:253px">1 Ki 16</div><div class="t" style="left:764px;top:253px;width:99px">Reigned over Israel in Tirzah for 7 days. Death: He set his palace on fire when Omri and all the Israelites with him withdrew from Gibbethon and laid siege to Tirzah.</div><div class="t" style="left:864px;top:253px">did evil</div>
<div class="t" style="left:506px;top:283px">6</div><div class="t" style="left:515px;top:283px">Omri</div><div class="t" style="left:546px;top:283px">captain</div><div class="t" style="left:682px;top:283px">885-875</div><div class="t" style="left:713px;top:283px">12 Samaria</div><div class="t" style="left:740px;top:283px">1 Ki 16</div><div class="t" style="left:764px;top:283px;width:99px">Reigned over Israel in Samaria for 12 years. Death: Natural Causes</div><div class="t" style="left:864px;top:283px">did evil</div>
<div class="t" style="left:506px;top:294px">7</div><div class="t" style="left:515px;top:294px">Ahab</div><div class="t" style="left:546px;top:294px">son</div><div class="t" style="left:601px;top:294px">Omri</div><div class="t" style="left:655px;top:294px;width:26px">Jezebel of Sidon</div><div class="t" style="left:682px;top:294px">875-854</div><div class="t" style="left:719px;top:294px">22</div><div class="t" style="left:740px;top:294px">1 Ki 17<br>2 Ch 18</div><div class="t" style="left:764px;top:294px;width:99px">Reigned over Israel in Samaria for 22 years. Death: Shot by an archer during the battle at Ramoth Gilead. He died upon his arrival at Samaria.</div><div class="t" style="left:864px;top:294px">did evil</div>
<div class="t" style="left:506px;top:318px">8</div><div class="t" style="left:515px;top:318px">Ahaziah</div><div class="t" style="left:546px;top:318px">son</div><div class="t" style="left:601px;top:318px">Ahab</div><div class="t" style="left:682px;top:318px">855-854</div><div class="t" style="left:720px;top:318px">2</div><div class="t" style="left:740px;top:318px">1 Ki 22<br>2 Ki 1</div><div class="t" style="left:764px;top:318px;width:99px">Reigned over Israel in Samaria for 2 years. Death: He fell through the lattice of his upper room and injured himself. Elijah the prophet told him he would never leave his bed and would die.</div><div class="t" style="left:864px;top:318px">did evil</div>
<div class="t" style="left:506px;top:347px">9</div><div class="t" style="left:515px;top:347px;width:30px">Jehoram (AKA Joram)</div><div class="t" style="left:546px;top:347px">son of Ahab</div><div class="t" style="left:601px;top:347px">Ahab</div><div class="t" style="left:682px;top:347px">854-843</div><div class="t" style="left:719px;top:347px">12</div><div class="t" style="left:740px;top:347px">2 Ki 3</div><div class="t" style="left:764px;top:347px;width:99px">Reigned over Israel in Samaria for 12 years. Death: Killed by Jehu, the next king of Israel.</div><div class="t" style="left:864px;top:347px">did evil</div>
<div class="t" style="left:506px;top:389px">10</div><div class="t" style="left:515px;top:389px">Jehu</div><div class="t" style="left:546px;top:389px">captain</div><div class="t" style="left:601px;top:389px;width:26px">Jehoshaphat</div><div class="t" style="left:682px;top:389px">843-816</div><div class="t" style="left:719px;top:389px">28</div><div class="t" style="left:740px;top:389px">2 Ki 9-10</div><div class="t" style="left:764px;top:389px;width:99px">Reigned over Israel in Samaria for 28 years.[21] Death: Natural Causes</div><div class="t" style="left:864px;top:389px">mixed</div>
<div class="t" style="left:506px;top:435px">11</div><div class="t" style="left:515px;top:435px">Jehoahaz</div><div class="t" style="left:546px;top:435px">son</div><div class="t" style="left:601px;top:435px">Jehu</div><div class="t" style="left:682px;top:435px">820-804</div><div class="t" style="left:719px;top:435px">17</div><div class="t" style="left:740px;top:435px">2 Ki 13</div><div class="t" style="left:764px;top:435px;width:99px">Reigned over Israel in Samaria for 17 years. Death: Natural Causes</div><div class="t" style="left:864px;top:435px">did evil</div>
<div class="t" style="left:506px;top:447px">12</div><div class="t" style="left:515px;top:447px;width:30px">Joash (AKA Jehoash)</div><div class="t" style="left:546px;top:447px">son</div><div class="t" style="left:601px;top:447px">Jehoahaz</div><div class="t" style="left:682px;top:447px">806-790</div><div class="t" style="left:719px;top:447px">16</div><div class="t" style="left:738px;top:447px">2 Ki 13-14</div><div class="t" style="left:764px;top:447px;width:99px">Reigned over Israel in Samaria for 16 years. Death: Natural Causes</div><div class="t" style="left:864px;top:447px">did evil</div>
<div class="t" style="left:506px;top:488px">13</div><div class="t" style="left:515px;top:488px">Jeroboam II</div><div class="t" style="left:546px;top:488px">son</div><div class="t" style="left:682px;top:488px">790-749</div><div class="t" style="left:719px;top:488px">41</div><div class="t" style="left:740px;top:488px">2 Ki 14</div><div class="t" style="left:764px;top:488px;width:99px">Reigned over Israel in Samaria for 41 years. Death: Natural Causes. The Book of Jonah or Jonah's journey to Nineveh happened at that time.</div><div class="t" style="left:864px;top:488px">did evil</div>
<div class="t" style="left:506px;top:511px">14</div><div class="t" style="left:515px;top:511px">Zechariah</div><div class="t" style="left:546px;top:511px">son</div><div class="t" style="left:690px;top:511px">748</div><div class="t" style="left:711px;top:511px">6 months</div><div class="t" style="left:740px;top:511px">2 Ki 15</div><div class="t" style="left:764px;top:511px;width:99px">Reigned over Israel in Samaria for 6 months. Death: Shallum son of Jabesh killed him in front of the people and succeeded as king</div><div class="t" style="left:864px;top:511px">did evil</div>
<div class="t" style="left:506px;top:529px">15</div><div class="t" style="left:515px;top:529px">Shallum</div><div class="t" style="left:546px;top:529px">none</div><div class="t" style="left:601px;top:529px">Jabesh</div><div class="t" style="left:690px;top:529px">748</div><div class="t" style="left:712px;top:529px">1 month</div><div class="t" style="left:740px;top:529px">2 Ki 15</div><div class="t" style="left:764px;top:529px;width:99px">Reigned over Israel in Samaria for 1 month. Death: Menahem son of Gadi attacked Shallum and assassinated him.</div><div class="t" style="left:864px;top:529px">did evil (surmised)</div>
<div class="t" style="left:506px;top:546px">16</div><div class="t" style="left:515px;top:546px">Menahem</div><div class="t" style="left:546px;top:546px">none</div><div class="t" style="left:573px;top:546px">Gad</div><div class="t" style="left:601px;top:546px">Gadi</div><div class="t" style="left:682px;top:546px">748-738</div><div class="t" style="left:719px;top:546px">10</div><div class="t" style="left:740px;top:546px">2 Ki 15</div><div class="t" style="left:764px;top:546px;width:99px">Reigned over Israel in Samaria for 10 years. Death: Natural Causes</div><div class="t" style="left:864px;top:546px">did evil</div>
<div class="t" style="left:506px;top:558px">17</div><div class="t" style="left:515px;top:558px">Pekahiah</div><div class="t" style="left:546px;top:558px">son</div><div class="t" style="left:682px;top:558px">738-736</div><div class="t" style="left:720px;top:558px">2</div><div class="t" style="left:740px;top:558px">2 Ki 15</div><div class="t" style="left:764px;top:558px;width:99px">Reigned over Israel in Samaria for 2 years. Death: Pekah son of Remaliah, one of the chief officers, took 50 men with him and assassinated the king in his palace at Samaria.</div><div class="t" style="left:864px;top:558px">did evil</div>
<div class="t" style="left:506px;top:581px">18</div><div class="t" style="left:515px;top:581px">Pekah</div><div class="t" style="left:546px;top:581px">captain</div><div class="t" style="left:601px;top:581px">Remaliah</div><div class="t" style="left:682px;top:581px">748-730</div><div class="t" style="left:719px;top:581px">20</div><div class="t" style="left:740px;top:581px">2 Ki 15</div><div class="t" style="left:764px;top:581px;width:99px">Reigned over Israel in Samaria for 20 years. Death: Hoshea son of Elah conspired against him and assassinated him.</div><div class="t" style="left:864px;top:581px">did evil</div>
<div class="t" style="left:506px;top:628px">19</div><div class="t" style="left:515px;top:628px">Hoshea</div><div class="t" style="left:546px;top:628px">none</div><div class="t" style="left:601px;top:628px">Elah</div><div class="t" style="left:682px;top:628px">730-721</div><div class="t" style="left:720px;top:628px">9</div><div class="t" style="left:740px;top:628px">2 Ki 17</div><div class="t" style="left:764px;top:628px;width:99px">Reigned over Israel in Samaria for 9 years. Death: King Shalmaneser attacked and captured Samaria. He charged Hoshea of treason and he put him in prison, then, he deported the Israelites to Assyria</div><div class="t" style="left:864px;top:628px">did evil</div>

</body></html>
